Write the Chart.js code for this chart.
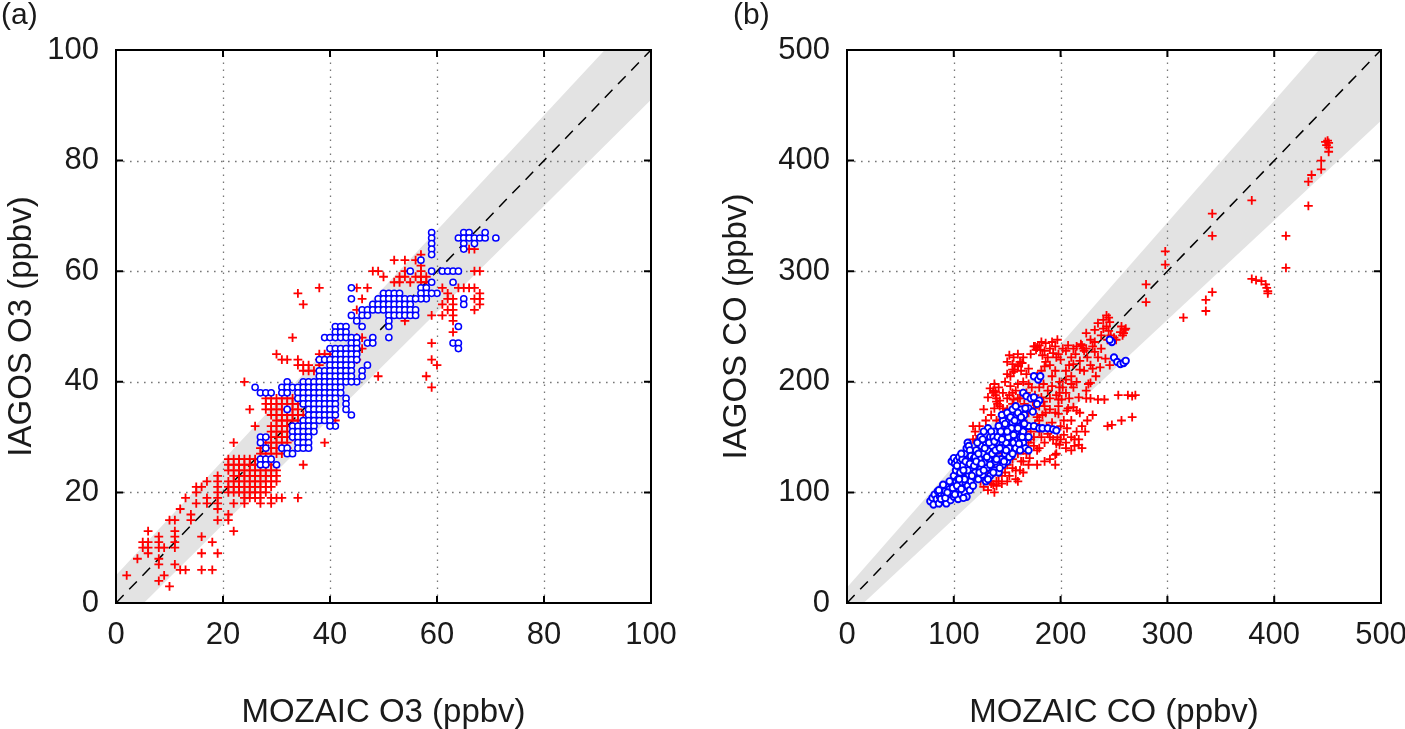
<!DOCTYPE html>
<html lang="en">
  <head>
    <meta charset="UTF-8" />
    <title>MOZAIC vs IAGOS O3 and CO</title>
    <script src="https://cdn.jsdelivr.net/npm/chart.js"></script>
    <style>
      body {
        margin: 0;
        background: #ffffff;
        width: 1405px;
        height: 729px;
        position: relative;
        overflow: hidden;
        font-family: "Liberation Sans", Arial, sans-serif;
        color: #1a1a1a;
      }
      .panel {
        position: absolute;
        top: 0;
      }
      .tag {
        position: absolute;
        top: -1px;
        font-size: 30px;
        line-height: 1;
      }
    </style>
  </head>
  <body>
    <div class="panel" style="left: 0"><canvas id="o3Chart" width="700" height="729"></canvas></div>
    <div class="panel" style="left: 700px"><canvas id="coChart" width="710" height="729"></canvas></div>
    <div class="tag" style="left: 1px">(a)</div>
    <div class="tag" style="left: 733px">(b)</div>
    <script>
      // axis ticks
      const o3Ticks = [0, 20, 40, 60, 80, 100];
      const coTicks = [0, 100, 200, 300, 400, 500];

      // 1:1 line and shaded agreement band
      const o3LineX = [0, 100];
      const o3BandLow = [-5, 91];
      const o3BandHigh = [5, 109];
      const coLineX = [0, 500];
      const coBandLow = [-14, 436];
      const coBandHigh = [14, 564];

      // O3 (ppbv) [MOZAIC, IAGOS]
      const o3Red = [
        [2,5],[4,8],[5,10],[5,11],[6,9],[6,10],[6,11],[6,13],[8,4],[8,7],[8,8],[8,10],[8,11],[8,12],[9,5],[9,10],[10,3],[10,15],
        [11,7],[11,10],[11,11],[11,12],[11,13],[11,15],[12,6],[12,17],[13,6],[13,19],[14,15],[14,16],[15,18],[15,20],[15,21],
        [16,6],[16,9],[16,12],[16,21],[17,18],[17,19],[17,22],[18,6],[18,11],[19,9],[19,15],[19,17],[19,18],[19,19],[19,20],
        [19,21],[19,22],[19,23],[21,15],[21,16],[22,13],
        [21,26],[22,26],[23,26],[24,26],[25,26],[26,26],[27,26],
        [21,25],[22,25],[23,25],[24,25],[25,25],[26,25],[27,25],[28,25],[29,25],
        [21,24],[22,24],[23,24],[24,24],[25,24],[26,24],[27,24],[28,24],[29,24],[30,24],
        [22,23],[23,23],[24,23],[25,23],[26,23],[27,23],[28,23],[29,23],[30,23],
        [21,22],[22,22],[23,22],[24,22],[25,22],[26,22],[27,22],[28,22],[29,22],[30,22],
        [21,21],[22,21],[23,21],[24,21],[25,21],[26,21],[27,21],[28,21],[29,21],
        [21,20],[22,20],[23,20],[24,20],[25,20],[26,20],[27,20],[28,20],
        [24,19],[25,19],[26,19],[27,19],[29,19],[30,19],[31,19],[22,18],[24,18],[27,18],[29,18],
        [34,19],[35,25],[22,29],[24,40],[25,35],[26,32],[30,45],[33,48],[39,29],
        [28,37],[29,37],[30,37],[31,37],[32,37],[33,37],
        [28,36],[29,36],[30,36],[31,36],[32,36],[33,36],[34,36],
        [28,35],[29,35],[30,35],[31,35],[32,35],[33,35],[34,35],
        [29,34],[30,34],[31,34],[32,34],[33,34],[34,34],[35,34],
        [30,33],[31,33],[32,33],[33,33],[34,33],
        [29,32],[30,32],[31,32],[32,32],[33,32],
        [29,31],[30,31],[31,31],[32,31],
        [29,30],[30,30],[31,30],[32,30],[33,30],
        [28,29],[29,29],[30,29],[31,29],[32,29],
        [27,28],[28,28],[29,28],[30,28],[31,28],[32,28],
        [27,27],[28,27],[29,27],[30,27],[31,27],
        [31,44],[32,44],[34,44],[34,43],[35,42],[35,43],[36,42],[36,43],[37,42],[38,43],[38,44],[38,45],[39,44],[39,45],
        [40,44],[40,45],[41,44],[42,43],[43,43],[34,56],[35,54],[38,57],[45,57],[47,57],[46,55],[45,53],[45,48],[46,48],
        [46,46],[45,44],[49,41],[48,60],[49,60],[50,59],[52,62],[54,62],[56,62],[57,63],[57,61],[57,60],[57,59],[57,58],
        [58,59],[58,58],[52,58],[53,58],[53,59],[54,59],[55,58],[56,59],[54,60],[54,51],[55,53],[59,52],[59,47],[59,44],
        [60,43],[58,41],[59,39],[61,57],[61,54],[61,52],[62,56],[62,55],[62,53],[63,55],[63,54],[63,53],[63,52],[63,51],
        [63,49],[64,57],[65,57],[66,57],[67,57],[68,56],[67,55],[68,55],[68,54],[67,53],[66,64],[67,64],[67,60],[68,60],
        [36,33],[37,33],[40,37],[40,35],[41,33]
      ];
      const o3Blue = [
        [59,67],[59,66],[59,65],[59,64],[59,63],[59,60],[59,58],[57,62],[55,60],
        [64,66],[65,67],[66,67],[65,66],[66,66],[67,66],[68,66],[69,66],[69,67],[71,66],[65,65],[67,65],[65,64],
        [61,60],[62,60],[63,60],[64,60],[63,58],[60,56],[65,55],[65,54],[64,50],[63,47],[64,47],[64,46],
        [57,57],[58,57],[58,56],[59,56],[58,55],[57,56],[57,55],
        [50,56],[51,56],[52,56],[53,56],
        [49,55],[50,55],[51,55],[52,55],[53,55],[54,55],[55,55],[56,55],
        [48,54],[49,54],[50,54],[51,54],[52,54],[53,54],[54,54],[55,54],
        [46,53],[47,53],[48,53],[49,53],[50,53],[51,53],[52,53],[53,53],[54,53],[55,53],[56,53],
        [46,52],[47,52],[51,52],[52,52],[53,52],[54,52],[55,52],[56,52],
        [51,51],[51,50],[44,57],[44,55],[44,52],[45,51],[46,50],[48,48],[47,47],[48,47],[51,48],[47,43],[46,42],[46,41],
        [45,40],[44,34],[41,32],
        [41,50],[42,50],[43,50],[41,49],[42,49],[43,49],
        [39,48],[40,48],[41,48],[42,48],[43,48],[44,48],[45,48],[44,47],[45,47],
        [40,46],[41,46],[42,46],[43,46],[44,46],[45,46],
        [41,45],[42,45],[43,45],[44,45],[45,45],
        [38,44],[39,44],[40,44],[41,44],[42,44],[43,44],[44,44],[45,44],
        [40,43],[41,43],[42,43],[43,43],[44,43],
        [38,42],[39,42],[40,42],[41,42],[42,42],[43,42],[44,42],
        [38,41],[39,41],[40,41],[41,41],[42,41],[43,41],[44,41],
        [32,40],[35,40],[36,40],[37,40],[38,40],[39,40],[40,40],[41,40],[42,40],[43,40],[44,40],
        [26,39],[31,39],[32,39],[33,39],[34,39],[35,39],[36,39],[37,39],[38,39],[39,39],[40,39],[41,39],[42,39],
        [27,38],[28,38],[29,38],[31,38],[32,38],[34,38],[35,38],[36,38],[37,38],[38,38],[39,38],[40,38],[41,38],[42,38],
        [34,37],[35,37],[36,37],[37,37],[38,37],[39,37],[40,37],[41,37],[43,37],
        [35,36],[36,36],[37,36],[38,36],[39,36],[40,36],[41,36],[43,36],
        [32,35],[36,35],[37,35],[38,35],[39,35],[40,35],[41,35],[43,35],
        [36,34],[37,34],[38,34],[39,34],[40,34],[41,34],
        [35,33],[36,33],[37,33],[38,33],[39,33],[40,33],
        [33,32],[34,32],[35,32],[36,32],[37,32],[40,32],
        [33,31],[34,31],[35,31],[36,31],[37,31],
        [27,30],[28,30],[33,30],[34,30],[35,30],[36,30],
        [27,29],[34,29],[35,29],[36,29],
        [28,28],[31,28],[32,28],[34,28],[35,28],[36,28],
        [32,27],[33,27],[27,26],[28,26],[29,26],[27,25],[28,25],[30,25]
      ];

      // CO (ppbv) [MOZAIC, IAGOS]
      const coRed = [
        [448,417],[450,418],[451,416],[449,414],[451,412],[451,408],[444,400],[444,392],[435,387],[432,381],[432,359],
        [411,332],[411,303],[379,364],[342,352],[342,332],[298,318],[298,306],[280,288],[280,272],[315,258],[336,274],
        [336,264],[342,281],[379,293],[383,292],[388,291],[392,288],[393,285],[394,282],[394,280],
        [232,247],[235,253],[238,242],[240,248],[240,256],[243,260],[243,250],[245,258],[245,246],[246,254],[247,242],
        [244,238],[250,240],[252,238],[256,245],[258,242],[260,247],[257,250],[261,248],[259,244],[232,236],[232,227],
        [242,221],[246,215],[237,213],[233,205],[228,199],[220,233],[221,230],[218,219],[218,211],[210,222],[214,225],
        [212,216],[215,232],[219,234],[222,228],[224,230],[205,228],[200,220],[198,225],[195,232],[190,230],[193,226],
        [185,228],[188,222],[180,233],[178,231],[175,232],[181,229],[183,224],[186,218],
        [254,188],[263,188],[267,187],[270,188],[267,168],[257,165],[248,161],[244,160],[223,155],[213,148],[213,142],
        [199,143],[235,184],[241,184],[224,192],[224,185],[226,198],[207,176],[212,177],[198,184],[198,178],[198,171],
        [199,200],[199,195],[199,190],[217,186],[228,185],[215,174],[218,172],[217,148],[217,143],[201,184],[206,174],
        [203,165],[200,160],[196,135],[185,128],[171,131],[195,134],[197,150],[200,148],[203,152],[188,153],[193,148],
        [196,144],[180,155],[190,150],[205,140],[210,138],[185,145],[175,142],[178,138],[182,150],[172,148],[168,152],
        [187,160],[192,163],[206,158],[210,165],[186,172],[178,168],
        [162,218],[160,214],[157,211],[156,209],[153,205],[150,207],[155,211],[164,217],[150,218],[155,216],[160,215],
        [163,210],[168,207],[170,212],[165,222],[172,225],[176,232],[177,229],[139,191],[140,185],[141,180],[138,176],
        [143,183],[146,176],[149,170],[145,166],[137,192],[139,188],[143,178],[137,190],[140,182],[146,170],[153,196],
        [155,190],[156,184],[160,198],[165,200],[170,198],[168,190],[173,195],[178,205],[182,210],[185,214],[190,215],
        [195,210],[192,205],[205,210],[208,215],[210,205],
        [123,147],[118,148],[122,140],[126,135],[130,132],[128,145],[121,148],[124,142],[127,136],[130,130],[125,128],
        [135,128],[140,120],[145,115],[150,110],[140,110],[135,115],[135,108],[140,106],[142,110],[131,113],[134,110],
        [137,107],[145,122],[150,125],[155,130],[158,120],[160,135],[163,128],[165,138],[150,140],[155,145],[145,135],
        [170,160],[165,165],[160,175],[155,160],[152,150],[162,155],[148,148],[142,140],[132,120],[127,125],[115,120],
        [112,128],[118,133],[110,118],
        [120,115],[125,110],[128,105],[132,102],[138,100],[145,108],[148,118],[152,115],[155,122],[158,112],[162,120],
        [165,128],[168,135],[170,145],[175,150],[172,155],[176,162],[180,165],[183,170],[185,178],[190,175],[195,172],
        [190,185],[188,192],[184,198],[180,195],[176,188],[174,182],[182,186],[192,196],[196,188],[202,195],[205,190],
        [208,185],[212,195],[215,200],[210,198],[205,202],[196,222],[202,230],[207,233],[212,230],[225,222],[228,215],
        [222,210],[230,212],[235,222],[238,230],[228,238],[224,244],[230,232],[182,236],[186,235],[192,236],[197,238],
        [160,225],[156,222],[152,224],[148,200],[152,188],[158,192],[162,185],[166,180],[170,172],[175,176],[180,178],
        [184,182],[165,175],[160,185],[155,180],[150,185],[146,190],[142,195],[138,198],[134,194],[132,186],[128,175],
        [124,160],[120,155],[118,160],[130,165],[135,170],[140,165],[145,160],[150,175],[210,150],[215,155],[220,160],
        [225,165],[230,170],[220,140],[205,145],[195,125],[190,130],[180,140],[178,125],[170,125],[165,118],[160,110]
      ];
      const coBlue = [
        [78,92],[80,95],[81,89],[82,98],[84,94],[85,101],[86,90],[87,96],[88,99],[89,104],[90,93],[91,97],[92,101],
        [93,90],[94,106],[95,97],[96,103],[97,93],[98,108],[99,100],[100,96],[101,104],[102,110],[103,99],[104,94],
        [105,103],[106,108],[107,98],[108,113],[109,104],[110,100],[111,109],[112,96],[113,106],[114,116],[115,102],
        [116,110],[117,122],[118,106],[119,114],[98,128],[100,131],[101,126],[103,129],[105,132],[106,127],[108,130],
        [110,135],[112,140],[113,145],[114,142],[115,138],[116,133],[118,126],[119,131],[120,118],[121,138],[122,124],
        [123,112],[124,130],[125,121],[126,142],[127,116],[128,135],[129,127],[130,110],[130,145],[131,122],[132,138],
        [133,130],[134,150],[134,115],[135,125],[136,142],[137,134],[138,120],[138,155],[139,128],[140,145],[141,138],
        [142,118],[142,160],[143,150],[144,130],[145,140],[146,125],[146,165],[147,155],[148,135],[149,145],[150,128],
        [150,170],[151,160],[152,140],[153,150],[154,133],[155,165],[156,145],[157,138],[158,155],[159,170],[160,148],
        [161,160],[162,150],[163,175],[164,165],[165,145],[165,155],[166,170],[167,140],[168,160],[170,138],[170,150],
        [155,163],[160,165],[165,163],[170,160],[175,160],[180,158],[183,158],[188,158],[193,157],[196,156],
        [175,205],[179,202],[181,205],[165,190],[168,187],[172,185],[175,186],[180,183],[170,176],[174,173],[178,180],
        [167,176],[160,172],[145,170],[150,172],[155,175],[158,178],[132,158],[135,155],[137,150],[128,155],[125,150],
        [248,236],[246,238],[250,222],[253,218],[256,216],[259,217],[261,219],
        [100,115],[102,120],[104,112],[106,118],[108,124],[110,112],[111,128],[113,120],[115,126],[117,115],[119,124],
        [120,132],[103,124],[107,135],[109,120],[121,128],[122,145],[123,135],[124,118],[126,126],[127,148],[128,120],
        [129,140],[131,132],[132,112],[133,145],[134,125],[136,135],[137,118],[138,146],[139,138],[140,130],[141,150],
        [143,122],[143,140],[144,155],[145,148],[147,128],[148,162],[149,138],[151,150],[152,132],[153,168],[154,158],
        [156,152],[157,165],[158,140],[160,158],[161,144],[163,168],[164,150],[166,162],[162,138],[155,135],[150,155],
        [86,102],[88,94],[90,107],[92,95],[94,100],[96,110],[99,104],[101,98],[103,106],[105,112],[107,103],[109,95]
      ];

      const fontFamily = '"Liberation Sans", Arial, sans-serif';
      const textColor = "#1a1a1a";

      // dotted grid right after the shaded band, frame and inward ticks at the end
      const framePlugin = {
        id: "frame",
        afterDatasetDraw(chart, args) {
          if (args.index !== 1) return;
          const { ctx, chartArea: a, scales } = chart;
          ctx.save();
          ctx.strokeStyle = "#777777";
          ctx.lineWidth = 1.3;
          ctx.setLineDash([1.6, 5.4]);
          scales.x.ticks.forEach((t) => {
            if (t.value <= scales.x.min || t.value >= scales.x.max) return;
            const px = Math.round(scales.x.getPixelForValue(t.value)) + 0.5;
            ctx.beginPath();
            ctx.moveTo(px, a.bottom);
            ctx.lineTo(px, a.top);
            ctx.stroke();
          });
          scales.y.ticks.forEach((t) => {
            if (t.value <= scales.y.min || t.value >= scales.y.max) return;
            const py = Math.round(scales.y.getPixelForValue(t.value)) + 0.5;
            ctx.beginPath();
            ctx.moveTo(a.left, py);
            ctx.lineTo(a.right, py);
            ctx.stroke();
          });
          ctx.restore();
        },
        afterDraw(chart) {
          const { ctx, chartArea: a, scales } = chart;
          const len = 7;
          ctx.save();
          ctx.strokeStyle = "#000000";
          ctx.lineWidth = 2;
          ctx.strokeRect(a.left, a.top, a.right - a.left, a.bottom - a.top);
          ctx.beginPath();
          scales.x.ticks.forEach((t) => {
            if (t.value <= scales.x.min || t.value >= scales.x.max) return;
            const px = scales.x.getPixelForValue(t.value);
            ctx.moveTo(px, a.bottom);
            ctx.lineTo(px, a.bottom - len);
            ctx.moveTo(px, a.top);
            ctx.lineTo(px, a.top + len);
          });
          scales.y.ticks.forEach((t) => {
            if (t.value <= scales.y.min || t.value >= scales.y.max) return;
            const py = scales.y.getPixelForValue(t.value);
            ctx.moveTo(a.left, py);
            ctx.lineTo(a.left + len, py);
            ctx.moveTo(a.right, py);
            ctx.lineTo(a.right - len, py);
          });
          ctx.stroke();
          ctx.restore();
        },
      };

      function makeAxis(ticks, title, tickPad, titlePad, fit) {
        return {
          type: "linear",
          min: ticks[0],
          max: ticks[ticks.length - 1],
          afterBuildTicks: (s) => {
            s.ticks = ticks.map((v) => ({ value: v }));
          },
          afterFit: fit,
          ticks: {
            color: textColor,
            font: { family: fontFamily, size: 31 },
            padding: tickPad,
            maxRotation: 0,
            autoSkip: false,
          },
          grid: { display: false, drawTicks: false },
          border: { display: false },
          title: {
            display: true,
            text: title,
            color: textColor,
            font: { family: fontFamily, size: 33, lineHeight: 1 },
            padding: titlePad,
          },
        };
      }

      function createPanel(canvasId, cfg) {
        const pts = (arr) => arr.map(([x, y]) => ({ x: x, y: y }));
        new Chart(document.getElementById(canvasId), {
          type: "scatter",
          data: {
            datasets: [
              {
                type: "line",
                data: cfg.lineX.map((x, i) => ({ x: x, y: cfg.bandHigh[i] })),
                borderWidth: 0,
                pointRadius: 0,
                fill: "+1",
                backgroundColor: "#e3e3e3",
                order: 5,
              },
              {
                type: "line",
                data: cfg.lineX.map((x, i) => ({ x: x, y: cfg.bandLow[i] })),
                borderWidth: 0,
                pointRadius: 0,
                fill: false,
                order: 4,
              },
              {
                type: "line",
                data: cfg.lineX.map((x) => ({ x: x, y: x })),
                borderColor: "#000000",
                borderWidth: 1.5,
                borderDash: [11, 8],
                pointRadius: 0,
                fill: false,
                order: 3,
              },
              {
                data: pts(cfg.red),
                pointStyle: "cross",
                pointRadius: 4.4,
                borderWidth: 1.8,
                borderColor: "#ff0000",
                order: 2,
              },
              {
                data: pts(cfg.blue),
                pointStyle: "circle",
                pointRadius: cfg.blueRadius,
                borderWidth: cfg.blueWidth,
                borderColor: "#0000ff",
                backgroundColor: "#ffffff",
                order: 1,
              },
            ],
          },
          options: {
            responsive: false,
            animation: false,
            events: [],
            layout: { padding: { left: 0, top: 50, right: cfg.padRight, bottom: 0 } },
            plugins: { legend: { display: false }, tooltip: { enabled: false } },
            scales: {
              x: makeAxis(cfg.ticks, cfg.xTitle, 14, { top: 0, bottom: 0 }, (s) => {
                s.height = 126;
                // end labels may hang past the plot edge
                s.paddingLeft = 0;
                s.paddingRight = 0;
              }),
              y: makeAxis(cfg.ticks, cfg.yTitle, 17, { top: cfg.yTitleGap, bottom: 0 }, (s) => {
                s.width = cfg.yWidth;
              }),
            },
          },
          plugins: [framePlugin],
        });
      }

      createPanel("o3Chart", {
        ticks: o3Ticks, lineX: o3LineX, bandLow: o3BandLow, bandHigh: o3BandHigh,
        red: o3Red, blue: o3Blue, blueRadius: 3.1, blueWidth: 1.5,
        xTitle: "MOZAIC O3 (ppbv)", yTitle: "IAGOS O3 (ppbv)",
        yWidth: 116, padRight: 49, yTitleGap: 5.5,
      });
      createPanel("coChart", {
        ticks: coTicks, lineX: coLineX, bandLow: coBandLow, bandHigh: coBandHigh,
        red: coRed, blue: coBlue, blueRadius: 3.2, blueWidth: 1.9,
        xTitle: "MOZAIC CO (ppbv)", yTitle: "IAGOS CO (ppbv)",
        yWidth: 147, padRight: 29, yTitleGap: 20.5,
      });
    </script>
  </body>
</html>
